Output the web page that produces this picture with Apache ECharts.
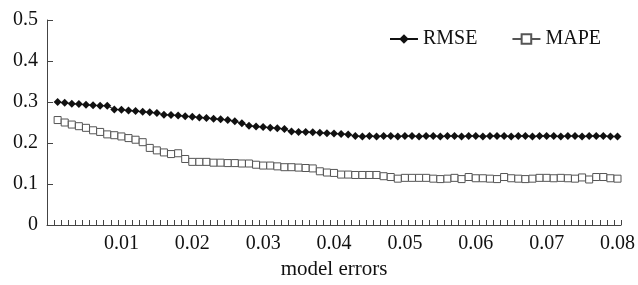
<!DOCTYPE html>
<html>
<head>
<meta charset="utf-8">
<script src="https://cdn.jsdelivr.net/npm/echarts@6/dist/echarts.min.js"></script>
<style>
    html, body { margin: 0; padding: 0; background: #ffffff; }
    #chart { width: 638px; height: 285px; }
</style>
</head>
<body>
<div id="chart"></div>
<script>
    // model error steps 0, 0.001 ... 0.08 (no value at 0)
    var categories = [];
    for (var i = 0; i <= 80; i++) {
        categories.push((i / 1000).toFixed(3));
    }
    var tickLabels = ['0.01', '0.02', '0.03', '0.04', '0.05', '0.06', '0.07', '0.08'];

    var rmse = [
        0.300, 0.298, 0.296, 0.295, 0.293, 0.292, 0.291, 0.291, 0.282, 0.281,
        0.279, 0.278, 0.276, 0.275, 0.273, 0.269, 0.268, 0.267, 0.265, 0.264,
        0.262, 0.261, 0.259, 0.258, 0.256, 0.253, 0.248, 0.242, 0.240, 0.239,
        0.237, 0.236, 0.234, 0.228, 0.227, 0.227, 0.226, 0.225, 0.224, 0.223,
        0.222, 0.221, 0.217, 0.216, 0.217, 0.216, 0.217, 0.217, 0.216, 0.217,
        0.217, 0.216, 0.217, 0.217, 0.216, 0.217, 0.217, 0.216, 0.217, 0.217,
        0.216, 0.217, 0.217, 0.217, 0.216, 0.217, 0.217, 0.216, 0.217, 0.217,
        0.217, 0.216, 0.217, 0.217, 0.216, 0.217, 0.217, 0.217, 0.216, 0.216
    ];
    var mape = [
        0.256, 0.250, 0.245, 0.241, 0.237, 0.231, 0.227, 0.221, 0.219, 0.216,
        0.212, 0.208, 0.202, 0.188, 0.182, 0.177, 0.173, 0.175, 0.161, 0.154,
        0.154, 0.154, 0.152, 0.152, 0.151, 0.151, 0.150, 0.150, 0.147, 0.145,
        0.145, 0.143, 0.141, 0.141, 0.140, 0.139, 0.138, 0.131, 0.128, 0.127,
        0.123, 0.123, 0.122, 0.122, 0.122, 0.122, 0.119, 0.117, 0.113, 0.115,
        0.115, 0.115, 0.115, 0.113, 0.112, 0.113, 0.115, 0.112, 0.117, 0.114,
        0.114, 0.113, 0.112, 0.117, 0.114, 0.113, 0.112, 0.113, 0.115, 0.115,
        0.114, 0.115, 0.114, 0.113, 0.116, 0.111, 0.117, 0.117, 0.114, 0.113
    ];

    var font = '"Liberation Serif", "Times New Roman", serif';
    var axisColor = '#444444';

    var chart = echarts.init(document.getElementById('chart'));
    chart.setOption({
        animation: false,
        grid: {
            left: 47,
            right: 16,
            top: 20,
            bottom: 56
        },
        legend: {
            right: 32,
            top: 24,
            itemWidth: 28,
            itemHeight: 12,
            itemGap: 34,
            textStyle: { fontFamily: font, fontSize: 20, color: '#111' },
            data: ['RMSE', 'MAPE']
        },
        xAxis: [
            {
                type: 'category',
                data: categories,
                name: 'model errors',
                nameLocation: 'middle',
                nameGap: 34,
                nameTextStyle: { fontFamily: font, fontSize: 21, color: '#111' },
                axisLine: { lineStyle: { color: axisColor } },
                axisTick: { show: false },
                axisLabel: {
                    interval: function (index) {
                        return index > 0 && index % 10 === 0;
                    },
                    formatter: function (value) {
                        var k = Math.round(parseFloat(value) * 100) - 1;
                        return tickLabels[k] || '';
                    },
                    margin: 9,
                    fontFamily: font,
                    fontSize: 20,
                    color: '#111'
                }
            },
            // plain axis used only for the small inner ticks
            {
                type: 'category',
                position: 'bottom',
                data: categories,
                axisLine: { show: false },
                axisLabel: { show: false },
                axisTick: { show: true, inside: true, length: 5, interval: 0, lineStyle: { color: axisColor, width: 1 } }
            }
        ],
        yAxis: [
            {
                type: 'value',
                min: 0,
                max: 0.5,
                interval: 0.1,
                axisLine: { show: true, lineStyle: { color: axisColor } },
                axisTick: { show: false },
                axisLabel: {
                    margin: 9,
                    fontFamily: font,
                    fontSize: 20,
                    color: '#111'
                },
                splitLine: { show: false }
            },
            {
                type: 'value',
                position: 'left',
                min: 0,
                max: 0.5,
                interval: 0.1,
                axisLine: { show: false },
                axisLabel: { show: false },
                splitLine: { show: false },
                axisTick: { show: true, inside: true, length: 6, lineStyle: { color: axisColor, width: 1 } }
            }
        ],
        series: [
            {
                name: 'RMSE',
                type: 'line',
                data: [null].concat(rmse),
                showAllSymbol: true,
                symbol: 'diamond',
                symbolSize: 8,
                itemStyle: { color: '#111' },
                lineStyle: { color: '#111', width: 1 }
            },
            {
                name: 'MAPE',
                type: 'line',
                data: [null].concat(mape),
                showAllSymbol: true,
                symbol: 'rect',
                symbolSize: 7,
                itemStyle: { color: '#ffffff', borderColor: '#555', borderWidth: 1 },
                lineStyle: { color: '#555', width: 1 }
            }
        ]
    });
</script>
</body>
</html>
